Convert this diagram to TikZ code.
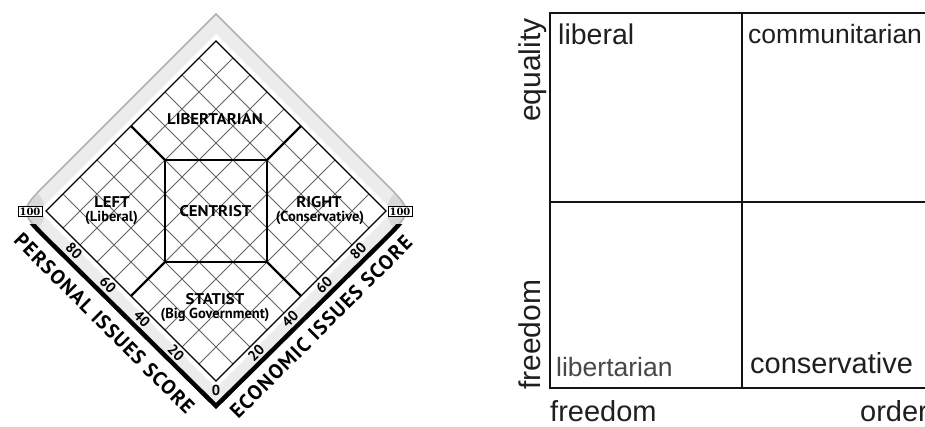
\documentclass[tikz,border=0pt]{standalone}
\usepackage{fontspec}
\setmainfont{Liberation Sans}
\newfontfamily\nolanfont{PT Sans}
\newfontfamily\axisfont[LetterSpace=6]{PT Sans}
\newfontfamily\numfont{DejaVu Serif}
\usetikzlibrary{calc}
\tikzset{
  gridline/.style={draw=black!62, line width=0.75pt},
  regionline/.style={draw=black, line width=2.3pt},
  rimline/.style={draw=black, line width=1.1pt},
  region/.style={font=\nolanfont\bfseries\fontsize{14.5}{15}\selectfont, inner sep=0pt},
  regioncap/.style={font=\nolanfont\bfseries\fontsize{15.5}{16}\selectfont, inner sep=0pt, xscale=1.08},
  tick/.style={font=\nolanfont\bfseries\fontsize{14.5}{14.5}\selectfont, inner sep=0pt},
  hundred/.style={draw=black, line width=0.6pt, fill=white, inner xsep=1.4pt, inner ysep=1.3pt, font=\numfont\bfseries\fontsize{10}{10}\selectfont},
  axislabel/.style={font=\axisfont\bfseries\fontsize{16}{16}\selectfont, inner sep=0pt},
  quad/.style={font=\fontsize{#1}{#1}\selectfont, text=black!88, inner sep=0pt, anchor=base west},
  boxline/.style={draw=black!92, line width=2.4pt},
}
\begin{document}
\begin{tikzpicture}[x=1pt,y=-1pt]
\useasboundingbox (0,0) rectangle (925,426);
\clip (0,0) rectangle (925,426);
\fill[white] (0,0) rectangle (925,426);

% ---------------- Nolan chart ----------------
% outer frame
\def\outerframe{(216,14) -- (47.3,182.7) .. controls (19,211) .. (47.3,239.3) -- (216,406) -- (384.7,239.3) .. controls (413,211) .. (384.7,182.7) -- cycle}
\fill[gray!15] \outerframe;
\begin{scope}
  \clip \outerframe;
  \fill[gray!30] (19,211) circle (26);
  \fill[gray!30] (413,211) circle (26);
\end{scope}
\draw[gray!60, line width=1.6pt] \outerframe;
\begin{scope}
  \clip (0,224) rectangle (440,426);
  \draw[black, line width=4.5pt] \outerframe;
\end{scope}
% white rim
\fill[white] (216,34) -- (39,211) -- (216,388) -- (393,211) -- cycle;

% grid coordinates (p = personal, e = economic)
\foreach \p in {0,10,...,100}{
  \foreach \e in {0,10,...,100}{
    \coordinate (g-\p-\e) at ({216+1.7*(\e-\p)},{381-1.7*(\p+\e)});
  }
}
\foreach \i in {10,20,...,90}{
  \draw[gridline] (g-\i-0) -- (g-\i-100);
  \draw[gridline] (g-0-\i) -- (g-100-\i);
}
\draw[rimline] (g-0-0) -- (g-100-0) -- (g-100-100) -- (g-0-100) -- cycle;
% region borders
\draw[regionline] (g-80-50) -- (g-50-80) -- (g-20-50) -- (g-50-20) -- cycle;
\draw[regionline] (g-80-50) -- (g-100-50);
\draw[regionline] (g-50-80) -- (g-50-100);
\draw[regionline] (g-50-20) -- (g-50-0);
\draw[regionline] (g-20-50) -- (g-0-50);

% region labels
\node[regioncap] (lib) at (215,119) {LIBERTARIAN};
\node[regioncap] (cen) at (215.5,211.5) {CENTRIST};
\node[regioncap] (left) at (112,202.5) {LEFT};
\node[region] (leftb) at (111.5,218) {(Liberal)};
\node[regioncap] (right) at (319,202.5) {RIGHT};
\node[region] (rightb) at (320,218) {(Conservative)};
\node[regioncap] (stat) at (215,299) {STATIST};
\node[region] (statb) at (215,315) {(Big Government)};

% tick labels
\foreach \v in {20,40,60,80}{
  \node[tick, rotate=-45] (tp\v) at ($(g-\v-0)+(-6,6)$) {\v};
  \node[tick, rotate=45] (te\v) at ($(g-0-\v)+(6,6)$) {\v};
}
\node[tick] (t0) at (216,390) {0};
\node[hundred] (hl) at (30,211.5) {100};
\node[hundred] (hr) at (400,211.5) {100};

% axis titles
\node[axislabel, rotate=-45] (axp) at (104.5,323.5) {\resizebox{245pt}{!}{PERSONAL ISSUES SCORE}};
\node[axislabel, rotate=45] (axe) at (321,327) {\resizebox{248pt}{!}{ECONOMIC ISSUES SCORE}};

% ---------------- Quadrant chart ----------------
\draw[boxline] (935,13) -- (550,13) -- (550,388) -- (935,388);
\draw[boxline] (742,13) -- (742,388);
\draw[boxline] (550,202) -- (935,202);

\node[quad=28.5] (qlib) at (558,44) {liberal};
\node[quad=26.5] (qcom) at (748,43) {communitarian};
\node[quad=26.5, text=black!72] (qlbt) at (556,376) {libertarian};
\node[quad=29] (qcon) at (750,373) {conservative};
\node[quad=29] (qfrx) at (550,421) {freedom};
\node[quad=29] (qord) at (860,421) {order};
\node[quad=30, rotate=90] (qeq) at (540,122) {equality};
\node[quad=30, rotate=90] (qfry) at (540,390) {freedom};
\end{tikzpicture}
\end{document}
